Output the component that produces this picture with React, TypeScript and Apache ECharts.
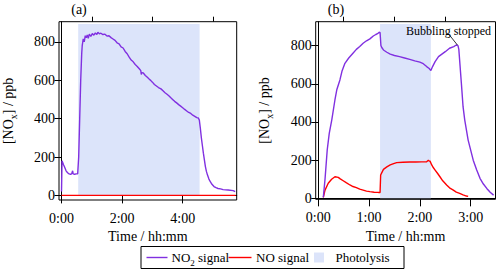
import React, { useEffect, useRef } from "react";
import * as echarts from "echarts";

// Panel (a): time in minutes, NO2 signal in ppb
const aTime = [0, 1, 2, 4, 6, 9, 12, 15, 18, 20, 22, 23, 26, 29, 32, 33, 34, 36, 38, 40, 41, 43, 45, 47, 49, 51, 53, 55, 58, 61, 64, 67, 70, 72, 75, 78, 82, 86, 90, 94, 98, 102, 106, 110, 114, 118, 122, 126, 130, 134, 138, 142, 146, 150, 154, 157, 158, 159, 162, 166, 170, 174, 177, 180, 184, 188, 192, 197, 201, 205, 209, 213, 216, 220, 224, 228, 232, 236, 240, 244, 248, 252, 256, 260, 264, 268, 271, 273, 275, 277, 279, 281, 283, 285, 287, 289, 292, 295, 298, 302, 306, 310, 315, 320, 330, 340, 344];
const aNO2 = [20, 180, 178, 160, 148, 128, 118, 112, 110, 112, 128, 112, 110, 112, 113, 112, 200, 400, 600, 740, 780, 815, 800, 832, 822, 836, 818, 840, 828, 843, 835, 846, 838, 850, 842, 845, 838, 840, 830, 832, 822, 815, 808, 795, 790, 774, 768, 750, 738, 720, 705, 696, 682, 672, 660, 650, 630, 640, 638, 625, 615, 605, 598, 590, 578, 570, 562, 555, 545, 535, 527, 518, 510, 500, 490, 482, 473, 465, 457, 448, 440, 432, 427, 418, 412, 405, 403, 392, 350, 300, 260, 220, 185, 150, 125, 107, 85, 70, 58, 46, 40, 36, 34, 30, 28, 25, 20];
const aNOTime = [0, 345];
const aNO = [0, 0];
const aPhotolysis = [33, 273.5];

// Panel (b)
const bTime = [6, 8, 10.6, 13, 16, 19.7, 22, 25.6, 28, 31.5, 36, 41, 45, 49, 53, 57, 61, 65, 68, 70, 72, 73, 74, 75, 77, 81, 85, 90, 96, 102, 108, 114, 120, 124, 128, 131, 133, 135, 138, 142, 146, 150, 155, 160, 163, 165, 166, 169, 171, 173, 177, 183, 187, 191, 195, 199, 203, 207];
const bNO2 = [5, 100, 253, 340, 411, 515, 570, 620, 665, 707, 735, 760, 780, 795, 812, 825, 835, 850, 858, 862, 870, 868, 800, 790, 777, 765, 755, 748, 742, 735, 728, 720, 713, 705, 690, 680, 669, 690, 716, 742, 755, 768, 786, 795, 803, 800, 780, 603, 480, 410, 305, 200, 150, 105, 75, 52, 32, 17];
const bNOTime = [6, 8, 11.8, 15.8, 19.7, 23.6, 26, 29.5, 33, 37.4, 41, 45, 49, 53, 57, 61, 66, 71, 73, 73.7, 77, 81, 85, 89, 92.6, 100, 108, 115, 122, 128, 130, 131, 132, 134, 136, 138, 141, 143.7, 147, 151.6, 155, 159.5, 163, 167, 171, 175, 177];
const bNO = [5, 43, 79, 100, 113, 110, 102, 92, 82, 70, 62, 56, 48, 43, 38, 35, 32, 31, 31, 122, 152, 165, 175, 182, 187, 189, 190, 190, 191, 192, 200, 195, 195, 175, 160, 148, 130, 113, 92, 70, 55, 43, 33, 26, 18, 12, 10];
const bPhotolysis = [73, 133];
const bBubbling = [[154.8, 856], [164.3, 803]];

const yTicks = [0, 200, 400, 600, 800];
const aMajorX = [0, 120, 240];
const aMinorX = [60, 180, 300];
const bMajorX = [0, 60, 120, 180];
const bMinorX = [30, 90, 150];

const FONT = "Liberation Serif, Times New Roman, Times, serif";
const FS = 14;
const LFS = 13;
const PURPLE = "#8030E0";
const RED = "#FF0000";
const SHADE = "#DCE4FA";

const fmt = (v: number) => {
  const h = Math.floor(v / 60);
  const m = Math.round(v - h * 60);
  return `${h}:${m < 10 ? "0" + m : m}`;
};

const zip = (xs: number[], ys: number[]) => xs.map((x, i) => [x, ys[i]]);

function App() {
  const ref = useRef<HTMLDivElement>(null);
  useEffect(() => {
    if (!ref.current) return;
    const chart = echarts.init(ref.current, undefined, { renderer: "svg" });
    const labelStyle = { color: "#000", fontFamily: FONT, fontSize: FS };
    const subRich = { sub: { fontSize: 10, fontFamily: FONT, color: "#000", verticalAlign: "bottom", padding: [0, 0, -3, 0] } };
    const majorX = (grid: number, min: number, max: number, vals: number[]) => ({
      type: "value",
      gridIndex: grid,
      min,
      max,
      name: "Time / hh:mm",
      nameLocation: "middle",
      nameGap: 21,
      nameTextStyle: { color: "#000", fontFamily: FONT, fontSize: FS },
      axisLine: { show: true, lineStyle: { color: "#000", width: 1 } },
      axisTick: { show: true, inside: false, length: 8, customValues: vals, lineStyle: { color: "#000", width: 1 } },
      axisLabel: { ...labelStyle, margin: 11, customValues: vals, formatter: fmt },
      splitLine: { show: false },
    });
    const minorX = (grid: number, min: number, max: number, vals: number[]) => ({
      type: "value",
      gridIndex: grid,
      min,
      max,
      axisLine: { show: false },
      axisTick: { show: true, inside: false, length: 5, customValues: vals, lineStyle: { color: "#000", width: 1 } },
      axisLabel: { show: false, customValues: vals },
      splitLine: { show: false },
    });
    const yAx = (grid: number, min: number, max: number) => ({
      type: "value",
      gridIndex: grid,
      min,
      max,
      name: "[NO{sub|x}] / ppb",
      nameLocation: "middle",
      nameGap: 44,
      nameTextStyle: { color: "#000", fontFamily: FONT, fontSize: FS, rich: subRich },
      axisLine: { show: true, lineStyle: { color: "#000", width: 1 } },
      axisTick: { show: true, inside: false, length: 7, customValues: yTicks, lineStyle: { color: "#000", width: 1 } },
      axisLabel: { ...labelStyle, margin: 4, customValues: yTicks },
      splitLine: { show: false },
    });
    const shade = (range: number[], top: number) => ({
      silent: true,
      itemStyle: { color: SHADE },
      data: [[{ xAxis: range[0], yAxis: 0 }, { xAxis: range[1], yAxis: top }]],
    });
    const grid = { show: true, borderColor: "#000", borderWidth: 1, backgroundColor: "transparent" };
    const txt = (text: string, x: number, y: number, align = "left", size = LFS) => ({
      type: "text",
      x,
      y,
      z: 100,
      style: { text, fontFamily: FONT, fontSize: size, fill: "#000", align, verticalAlign: "middle" },
    });
    chart.setOption({
      animation: false,
      textStyle: { fontFamily: FONT },
      grid: [
        { ...grid, left: 57.5, top: 21.7, width: 179.2, height: 178.3 },
        { ...grid, left: 315.7, top: 21.7, width: 179.8, height: 177.6 },
      ],
      xAxis: [
        majorX(0, -5, 347, aMajorX),
        minorX(0, -5, 347, aMinorX),
        majorX(1, -3, 209.3, bMajorX),
        minorX(1, -3, 209.3, bMinorX),
      ],
      yAxis: [yAx(0, -24, 905), yAx(1, -5, 925)],
      series: [
        { type: "line", name: "Photolysis a", xAxisIndex: 0, yAxisIndex: 0, data: [], markArea: shade(aPhotolysis, 893) },
        {
          type: "line", name: "NO signal a", xAxisIndex: 0, yAxisIndex: 0,
          data: zip(aNOTime, aNO), showSymbol: false, lineStyle: { color: RED, width: 1.4 }, z: 3,
        },
        {
          type: "line", name: "NO2 signal a", xAxisIndex: 0, yAxisIndex: 0,
          data: zip(aTime, aNO2), showSymbol: false, lineStyle: { color: PURPLE, width: 1.4 }, z: 4,
        },
        { type: "line", name: "Photolysis b", xAxisIndex: 2, yAxisIndex: 1, data: [], markArea: shade(bPhotolysis, 913) },
        {
          type: "line", name: "NO signal b", xAxisIndex: 2, yAxisIndex: 1,
          data: zip(bNOTime, bNO), showSymbol: false, lineStyle: { color: RED, width: 1.4 }, z: 3,
        },
        {
          type: "line", name: "NO2 signal b", xAxisIndex: 2, yAxisIndex: 1,
          data: zip(bTime, bNO2), showSymbol: false, lineStyle: { color: PURPLE, width: 1.4 }, z: 4,
          markLine: {
            silent: true,
            symbol: ["none", "none"],
            label: { show: false },
            lineStyle: { color: "#000", width: 0.8, type: "solid" },
            data: [[{ coord: bBubbling[0] }, { coord: bBubbling[1] }]],
          },
        },
      ],
      graphic: [
        txt("(a)", 79, 9.5, "center", FS),
        txt("(b)", 336, 9.5, "center", FS),
        txt("Bubbling stopped", 491, 30.5, "right", 12),
        { type: "rect", z: 100, shape: { x: 141, y: 246.5, width: 263, height: 22 }, style: { fill: "#fff", stroke: "#000", lineWidth: 1 } },
        { type: "line", z: 100, shape: { x1: 146.5, y1: 257.5, x2: 167.5, y2: 257.5 }, style: { stroke: PURPLE, lineWidth: 1.4 } },
        {
          type: "text", x: 171.5, y: 257.5, z: 100,
          style: {
            text: "NO{sub|2} signal", fontFamily: FONT, fontSize: LFS, fill: "#000", align: "left", verticalAlign: "middle",
            rich: { sub: { fontSize: 9, fontFamily: FONT, fill: "#000", verticalAlign: "bottom", padding: [0, 0, -3, 0] } },
          },
        },
        { type: "line", z: 100, shape: { x1: 228.5, y1: 257.5, x2: 251.5, y2: 257.5 }, style: { stroke: RED, lineWidth: 1.4 } },
        txt("NO signal", 256, 257.5),
        { type: "rect", z: 100, shape: { x: 314, y: 252.5, width: 10, height: 10 }, style: { fill: SHADE } },
        txt("Photolysis", 335.5, 257.5),
      ],
    });
    return () => chart.dispose();
  }, []);
  return <div ref={ref} style={{ width: 500, height: 272, position: "absolute", left: 0, top: 0 }} />;
}

export default App;
